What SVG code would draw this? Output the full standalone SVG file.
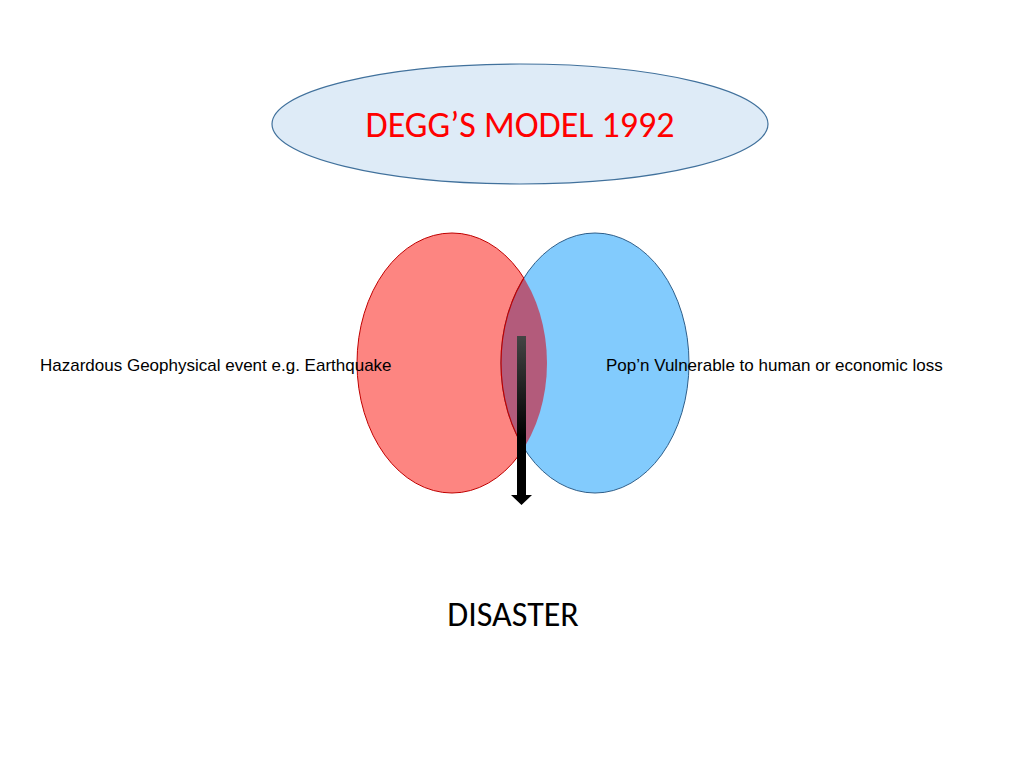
<svg xmlns="http://www.w3.org/2000/svg" width="1024" height="768" viewBox="0 0 1024 768">
<style>.t{font-family:"Liberation Sans",Arial,sans-serif;font-size:17px;fill:#000}</style>
<defs>
<clipPath id="rc"><ellipse cx="452" cy="363" rx="95" ry="130"/></clipPath>
<linearGradient id="g" x1="0" y1="0" x2="0" y2="1"><stop offset="0" stop-color="#444"/><stop offset="0.6" stop-color="#000"/></linearGradient>
</defs>
<rect width="1024" height="768" fill="#fff"/>
<g id="title"><ellipse cx="520" cy="124" rx="248" ry="60" fill="#deebf7" stroke="#41719c" stroke-width="1.2"/>
<text x="520" y="128" text-anchor="middle" dominant-baseline="middle" font-family="Calibri,Carlito,'Liberation Sans',sans-serif" font-size="36" fill="#ff0000">DEGG’S   MODEL  1992</text></g>
<g id="hazard"><ellipse cx="452" cy="363" rx="95" ry="130" fill="#fd8581" stroke="#c00000" stroke-width="1"/></g>
<g id="vuln"><ellipse cx="595" cy="363" rx="94" ry="130" fill="#82cbfd" stroke="#2f5f8a" stroke-width="1"/></g>
<g id="overlap"><ellipse cx="595" cy="363" rx="94" ry="130" clip-path="url(#rc)" fill="#b35b7b" stroke="#c00000" stroke-width="1.2"/></g>
<g id="connectors"><path d="M517 336H526V495H532L521.5 505L511 495H517Z" fill="url(#g)"/></g>
<text class="t" x="40" y="371">Hazardous Geophysical event e.g. Earthquake</text>
<text class="t" x="606" y="371">Pop’n Vulnerable to human or economic loss</text>
<g id="disaster"><text x="513" y="626" text-anchor="middle" font-family="Calibri,Carlito,'Liberation Sans',sans-serif" font-size="34">DISASTER</text></g>
</svg>
